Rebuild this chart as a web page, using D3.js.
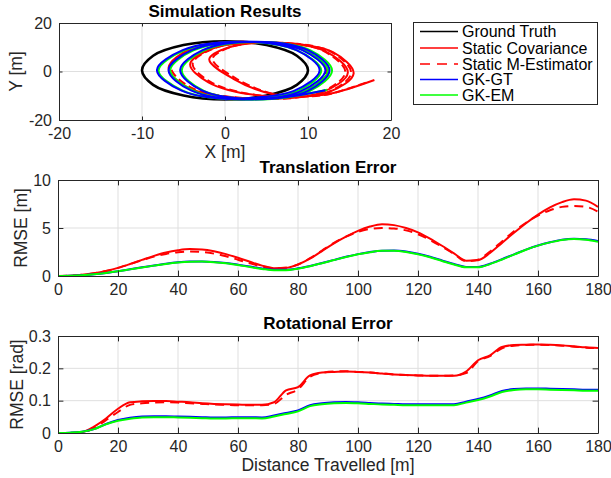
<!DOCTYPE html>
<html>
<head>
<meta charset="utf-8">
<script src="https://cdn.jsdelivr.net/npm/d3@7"></script>
<style>
  body { margin: 0; background: #fff; }
  svg { display: block; font-family: "Liberation Sans", Arial, Helvetica, sans-serif; }
</style>
</head>
<body>
<svg id="chart" width="611" height="478"></svg>
<script>
// ---------- series names / styles ----------
const seriesNames  = ["Ground Truth", "Static Covariance", "Static M-Estimator", "GK-GT", "GK-EM"];
const seriesColors = ["#000000", "#ff0000", "#ff0000", "#0000ff", "#00ff00"];
const seriesDashed = [false, false, true, false, false];

// ---------- trajectories (x, y in metres) ----------
const trajGroundTruth = [[10,0.5],[8.66,6.5],[5,10.9],[0,12.5],[-5,10.9],[-8.66,6.5],[-10,0.5],[-8.66,-5.5],[-5,-9.9],[0,-11.5],[5,-9.9],[8.66,-5.5]];
const trajStaticCov = [[0,-11.5],[9.5,-8.5],[12.4,0],[9.5,9],[3,12.2],[-4,9.5],[-6.8,1.5],[-4.5,-6.5],[1.5,-10.8],
  [11.5,-8.8],[14.8,-0.5],[12,8.5],[5,12],[-1.5,9.5],[-4.2,3],[-2,-4.5],[4.5,-10],
  [12.5,-8.5],[15.5,-0.8],[13,8],[6.5,11.8],[0.5,10],[-1.9,5],[1,-3],[6,-9.5],[12,-9.6],[15,-7],[18,-3.5]];
const trajStaticM = [[0,-11.5],[9.3,-8.6],[12.2,0.2],[9.4,9.1],[3,12.2],[-3.8,9.6],[-6.5,1.7],[-4.2,-6.4],[1.7,-10.8],
  [11.3,-8.9],[14.5,-0.3],[11.8,8.6],[5,12.1],[-1.3,9.6],[-3.9,3.2],[-1.7,-4.4],[4.7,-10.1],
  [12.3,-8.6],[15.2,-0.6],[12.8,8.1],[6.5,11.9],[0.7,10.1],[-1.5,5.2],[1.3,-2.8],[6.2,-9.6],[11.8,-9.8],[14.5,-7.4],[17.3,-4.2]];
const trajGKGT = [[0,-11.5],[8.3,-8],[11.4,0.5],[8.6,8.8],[1.8,12.3],[-5.1,8.8],[-8.2,0.6],[-5.3,-7.8],
  [2.2,-11.5],[9.2,-8],[12.1,0.5],[9.3,8.8],[2.9,12.3],[-4,8.8],[-6.8,0.6],[-4.1,-7.8],
  [3.3,-11.5],[10,-8],[12.6,0.5],[10,8.8],[3.8,12.3],[-2.7,8.8],[-5.4,0.6],[-2.8,-7.8],
  [4.2,-11.4],[12.1,-7.7]];
const trajGKEM = [[0,-11.5],[8.7,-8.1],[11.6,0.4],[8.7,8.7],[2,12.2],[-4.9,8.7],[-8,0.5],[-5.1,-7.9],
  [2.4,-11.6],[9.6,-8.1],[12.4,0.4],[9.6,8.7],[3.1,12.2],[-3.8,8.7],[-6.6,0.5],[-3.8,-7.9],
  [3.5,-11.6],[10.2,-8.1],[12.9,0.4],[10.3,8.7],[4,12.2],[-2.5,8.7],[-5.2,0.5],[-2.6,-7.9],
  [4.4,-11.5],[12.3,-7.5]];

// ---------- error curves ----------
const distance = [0,4,8,12,16,20,24,28,32,36,40,44,48,52,56,60,64,68,72,76,80,84,88,92,96,100,104,108,112,116,120,124,128,132,136,140,144,148,152,156,160,164,168,172,176,180];

const transStaticCov = [0,0.03,0.12,0.28,0.52,0.85,1.25,1.68,2.10,2.45,2.68,2.80,2.76,2.58,2.28,1.90,1.48,1.08,0.82,0.85,1.20,1.80,2.60,3.40,4.10,4.70,5.15,5.40,5.30,5.00,4.55,3.90,3.15,2.35,1.60,1.65,2.40,3.45,4.50,5.50,6.40,7.15,7.70,8.00,7.85,7.20];
const transStaticM   = [0,0.03,0.12,0.28,0.52,0.85,1.25,1.65,2.02,2.30,2.48,2.55,2.50,2.33,2.05,1.70,1.32,0.98,0.80,0.85,1.20,1.85,2.65,3.45,4.10,4.60,4.90,5.00,4.95,4.75,4.35,3.75,3.05,2.30,1.55,1.70,2.55,3.60,4.65,5.55,6.30,6.85,7.20,7.30,7.20,6.70];
const transGKGT      = [0,0.02,0.08,0.18,0.32,0.50,0.70,0.90,1.10,1.28,1.42,1.50,1.52,1.47,1.36,1.18,0.98,0.78,0.65,0.65,0.80,1.05,1.35,1.68,2.00,2.28,2.50,2.64,2.66,2.55,2.32,2.00,1.62,1.25,0.95,0.95,1.28,1.75,2.25,2.75,3.18,3.52,3.78,3.88,3.82,3.65];
const transGKEM      = [0,0.02,0.08,0.18,0.32,0.49,0.69,0.89,1.08,1.26,1.40,1.48,1.50,1.44,1.32,1.14,0.93,0.74,0.60,0.60,0.76,1.02,1.33,1.66,1.98,2.26,2.48,2.62,2.63,2.51,2.27,1.95,1.57,1.20,0.90,0.90,1.24,1.72,2.23,2.73,3.16,3.50,3.76,3.86,3.78,3.57];

const rotStaticCov = [0,0,0.003,0.020,0.045,0.075,0.095,0.098,0.099,0.099,0.097,0.095,0.092,0.090,0.089,0.088,0.087,0.087,0.095,0.132,0.142,0.178,0.187,0.189,0.190,0.189,0.187,0.184,0.181,0.179,0.178,0.177,0.177,0.177,0.190,0.225,0.240,0.266,0.272,0.273,0.274,0.273,0.271,0.268,0.265,0.263];
const rotStaticM   = [0,0,0.002,0.015,0.040,0.065,0.087,0.092,0.094,0.095,0.094,0.092,0.090,0.088,0.087,0.086,0.086,0.086,0.090,0.118,0.135,0.174,0.186,0.190,0.191,0.189,0.187,0.184,0.181,0.179,0.178,0.177,0.177,0.178,0.185,0.222,0.238,0.262,0.270,0.272,0.273,0.272,0.270,0.267,0.264,0.262];
const rotGKGT      = [0,0.001,0.004,0.012,0.028,0.040,0.047,0.051,0.052,0.052,0.051,0.050,0.049,0.048,0.048,0.049,0.049,0.048,0.054,0.062,0.070,0.086,0.092,0.095,0.096,0.095,0.093,0.091,0.090,0.089,0.089,0.089,0.089,0.089,0.097,0.105,0.116,0.130,0.136,0.138,0.138,0.137,0.136,0.135,0.134,0.134];
const rotGKEM      = [0,0.001,0.004,0.012,0.027,0.038,0.044,0.048,0.049,0.049,0.048,0.047,0.046,0.045,0.045,0.046,0.046,0.045,0.051,0.059,0.067,0.083,0.089,0.092,0.093,0.092,0.090,0.088,0.087,0.086,0.086,0.086,0.086,0.086,0.094,0.102,0.113,0.127,0.133,0.135,0.135,0.134,0.133,0.132,0.131,0.131];

// ---------- tick values ----------
const trajXTicks = [-20,-10,0,10,20];
const trajYTicks = [-20,0,20];
const distTicks  = [0,20,40,60,80,100,120,140,160,180];
const transTicks = [0,5,10];
const rotTicks   = [0,0.1,0.2,0.3];

// ---------- drawing ----------
const svg = d3.select("#chart");
const AX = "#262626", GRID = "#dfdfdf";
let clipId = 0;

function panel(x, y, xTicks, yTicks, fmtY, tickLen) {
  const g = svg.append("g");
  const [x0, x1] = x.range(), [y0, y1] = y.range();
  // grid
  g.append("g").selectAll("line").data(xTicks.slice(1, -1)).join("line")
    .attr("x1", d => x(d)).attr("x2", d => x(d)).attr("y1", y0).attr("y2", y1)
    .attr("stroke", GRID).attr("stroke-width", 1);
  g.append("g").selectAll("line").data(yTicks.slice(1, -1)).join("line")
    .attr("y1", d => y(d)).attr("y2", d => y(d)).attr("x1", x0).attr("x2", x1)
    .attr("stroke", GRID).attr("stroke-width", 1);
  const id = "clip" + (clipId++);
  svg.append("clipPath").attr("id", id).append("rect")
    .attr("x", x0).attr("y", y1).attr("width", x1 - x0).attr("height", y0 - y1);
  const plot = svg.append("g").attr("clip-path", `url(#${id})`);
  const axes = svg.append("g");
  const style = a => {
    a.selectAll("path.domain").attr("stroke", AX).attr("stroke-width", 1);
    a.selectAll(".tick line").attr("stroke", AX).attr("stroke-width", 1);
    a.selectAll("text").attr("fill", AX).attr("font-size", 16).attr("font-family", null);
  };
  axes.append("g").attr("transform", `translate(0,${y0})`)
    .call(d3.axisBottom(x).tickValues(xTicks).tickSizeInner(-tickLen).tickSizeOuter(0).tickPadding(8).tickFormat(d => String(d)))
    .call(style);
  axes.append("g").attr("transform", `translate(0,${y1})`)
    .call(d3.axisTop(x).tickValues(xTicks).tickSizeInner(-tickLen).tickSizeOuter(0).tickFormat(""))
    .call(style);
  axes.append("g").attr("transform", `translate(${x0},0)`)
    .call(d3.axisLeft(y).tickValues(yTicks).tickSizeInner(-tickLen).tickSizeOuter(0).tickPadding(7).tickFormat(fmtY))
    .call(style);
  axes.append("g").attr("transform", `translate(${x1},0)`)
    .call(d3.axisRight(y).tickValues(yTicks).tickSizeInner(-tickLen).tickSizeOuter(0).tickFormat(""))
    .call(style);
  axes.selectAll(".domain").attr("fill", "none");
  return { plot, axes };
}

function title(text, cx, yBase) {
  svg.append("text").attr("x", cx).attr("y", yBase).attr("text-anchor", "middle")
    .attr("font-size", 17).attr("font-weight", "bold").attr("fill", "#000").text(text);
}
function xLabel(text, cx, yBase) {
  svg.append("text").attr("x", cx).attr("y", yBase).attr("text-anchor", "middle")
    .attr("font-size", 17.5).attr("fill", AX).text(text);
}
function yLabel(text, xBase, cy) {
  svg.append("text").attr("transform", `translate(${xBase},${cy}) rotate(-90)`).attr("text-anchor", "middle")
    .attr("font-size", 17.5).attr("fill", AX).text(text);
}

// ---- trajectory panel ----
const tx = d3.scaleLinear().domain([-20, 20]).range([59, 391]);
const ty = d3.scaleLinear().domain([-20, 20]).range([120, 23]);
const trajPanel = panel(tx, ty, trajXTicks, trajYTicks, d => String(d), 3.5);
const trajLine = d3.line().x(d => tx(d[0])).y(d => ty(d[1])).curve(d3.curveCatmullRom.alpha(0.5));
const trajLineClosed = d3.line().x(d => tx(d[0])).y(d => ty(d[1])).curve(d3.curveCatmullRomClosed.alpha(0.5));

const trajs = [trajGroundTruth, trajStaticCov, trajStaticM, trajGKEM, trajGKGT];
const trajStyle = [0, 1, 2, 4, 3];
trajs.forEach((pts, i) => {
  const s = trajStyle[i];
  trajPanel.plot.append("path")
    .attr("d", i === 0 ? trajLineClosed(pts) : trajLine(pts))
    .attr("fill", "none").attr("stroke", seriesColors[s])
    .attr("stroke-width", i === 0 ? 2.6 : 2)
    .attr("stroke-dasharray", seriesDashed[s] ? "8,4" : null)
    .attr("stroke-linejoin", "round");
});
title("Simulation Results", 225, 17);
xLabel("X [m]", 225, 158);
yLabel("Y [m]", 22, 71.5);

// ---- legend ----
const legend = svg.append("g");
legend.append("rect").attr("x", 413.5).attr("y", 22.5).attr("width", 184).attr("height", 82)
  .attr("fill", "#fff").attr("stroke", AX).attr("stroke-width", 1);
const legendRows = [31.5, 48, 64, 79.5, 95];
seriesNames.forEach((name, i) => {
  legend.append("line").attr("x1", 420).attr("x2", 458)
    .attr("y1", legendRows[i]).attr("y2", legendRows[i])
    .attr("stroke", seriesColors[i]).attr("stroke-width", 1.5)
    .attr("stroke-dasharray", seriesDashed[i] ? "10,7" : null);
  legend.append("text").attr("x", 462).attr("y", legendRows[i] + 5.8)
    .attr("font-size", 16).attr("fill", "#000").text(name);
});

// ---- error panels ----
const dx = d3.scaleLinear().domain([0, 180]).range([58, 598]);

function errorPanel(yScale, yTicks, fmtY, series) {
  const p = panel(dx, yScale, distTicks, yTicks, fmtY, 5.4);
  const line = d3.line().x((d, i) => dx(distance[i])).y(d => yScale(d)).curve(d3.curveMonotoneX);
  series.forEach((vals, i) => {
    const s = i + 1;
    p.plot.append("path").attr("d", line(vals))
      .attr("fill", "none").attr("stroke", seriesColors[s]).attr("stroke-width", 2)
      .attr("stroke-dasharray", seriesDashed[s] ? "9,6" : null)
      .attr("stroke-linejoin", "round");
  });
  return p;
}

const ey = d3.scaleLinear().domain([0, 10]).range([276, 180]);
errorPanel(ey, transTicks, d => String(d), [transStaticCov, transStaticM, transGKGT, transGKEM]);
title("Translation Error", 328, 173);
yLabel("RMSE [m]", 27, 228);

const ry = d3.scaleLinear().domain([0, 0.3]).range([433, 336]);
errorPanel(ry, rotTicks, d => d === 0 ? "0" : d3.format(".1f")(d), [rotStaticCov, rotStaticM, rotGKGT, rotGKEM]);
title("Rotational Error", 328, 329);
yLabel("RMSE [rad]", 23, 384.5);
xLabel("Distance Travelled [m]", 328, 471);
</script>
</body>
</html>
